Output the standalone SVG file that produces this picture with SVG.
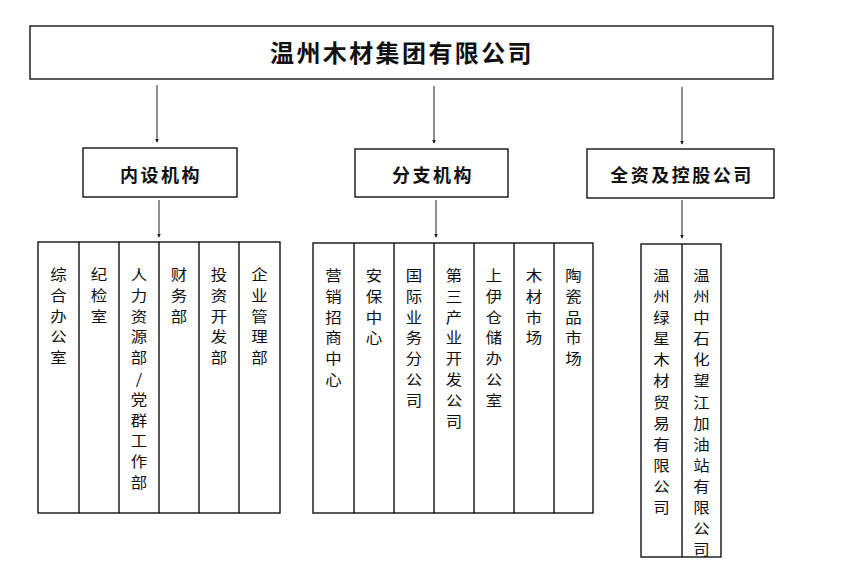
<svg xmlns="http://www.w3.org/2000/svg" width="845" height="587" viewBox="0 0 845 587">
<style>
.box{fill:#fff;stroke:#000;stroke-width:1.3}
.col{fill:none;stroke:#000;stroke-width:1.3}
.t1{font-family:"Noto Sans CJK SC","Noto Sans",sans-serif;font-size:24px;font-weight:bold;letter-spacing:2.4px;text-anchor:middle;fill:#111}
.t2{font-family:"Noto Sans CJK SC","Noto Sans",sans-serif;font-size:18px;font-weight:bold;letter-spacing:2.5px;text-anchor:middle;fill:#111}
.t3{font-family:"Noto Sans CJK SC","Noto Sans",sans-serif;font-size:14.3px;text-anchor:middle;fill:#111}
.arr{stroke:#555;stroke-width:1.3;fill:none;marker-end:url(#ah)}
</style>
<defs>
<marker id="ah" viewBox="0 0 6 6" refX="5" refY="3" markerWidth="4" markerHeight="4" orient="auto" markerUnits="userSpaceOnUse"><path d="M0,0 L6,3 L0,6 z" fill="#222"/></marker>
</defs>
<rect width="845" height="587" fill="#fff"/>
<g id="connectors">
<line class="arr" x1="157" y1="85" x2="157" y2="142"/>
<line class="arr" x1="434" y1="86" x2="434" y2="143"/>
<line class="arr" x1="682" y1="87" x2="682" y2="144"/>
<line class="arr" x1="159" y1="200" x2="159" y2="237"/>
<line class="arr" x1="436" y1="200" x2="436" y2="237"/>
<line class="arr" x1="682" y1="200" x2="682" y2="238"/>
</g>
<g id="root">
<rect class="box" x="30" y="26" width="743" height="53"/>
<text class="t1" x="402" y="62">温州木材集团有限公司</text>
</g>
<g id="neishe">
<rect class="box" x="83" y="148" width="154" height="49"/>
<text class="t2" x="161" y="182">内设机构</text>
</g>
<g id="fenzhi">
<rect class="box" x="355" y="149" width="153" height="48"/>
<text class="t2" x="433" y="182">分支机构</text>
</g>
<g id="quanzi">
<rect class="box" x="587" y="149" width="187" height="49"/>
<text class="t2" x="682" y="182">全资及控股公司</text>
</g>
<g id="group1">
<rect class="col" x="38" y="242" width="242" height="271"/>
<path class="col" d="M79,242V513M119,242V513M159,242V513M199,242V513M239,242V513"/>
<g transform="translate(58.5,0) scale(1.15,1)"><text class="t3" y="280"><tspan x="0">综</tspan><tspan x="0" dy="20.8">合</tspan><tspan x="0" dy="20.8">办</tspan><tspan x="0" dy="20.8">公</tspan><tspan x="0" dy="20.8">室</tspan></text></g>
<g transform="translate(99,0) scale(1.15,1)"><text class="t3" y="280"><tspan x="0">纪</tspan><tspan x="0" dy="20.8">检</tspan><tspan x="0" dy="20.8">室</tspan></text></g>
<g transform="translate(139,0) scale(1.15,1)"><text class="t3" y="280"><tspan x="0">人</tspan><tspan x="0" dy="20.8">力</tspan><tspan x="0" dy="20.8">资</tspan><tspan x="0" dy="20.8">源</tspan><tspan x="0" dy="20.8">部</tspan><tspan x="0" dy="20.8">/</tspan><tspan x="0" dy="20.8">党</tspan><tspan x="0" dy="20.8">群</tspan><tspan x="0" dy="20.8">工</tspan><tspan x="0" dy="20.8">作</tspan><tspan x="0" dy="20.8">部</tspan></text></g>
<g transform="translate(179,0) scale(1.15,1)"><text class="t3" y="280"><tspan x="0">财</tspan><tspan x="0" dy="20.8">务</tspan><tspan x="0" dy="20.8">部</tspan></text></g>
<g transform="translate(219,0) scale(1.15,1)"><text class="t3" y="280"><tspan x="0">投</tspan><tspan x="0" dy="20.8">资</tspan><tspan x="0" dy="20.8">开</tspan><tspan x="0" dy="20.8">发</tspan><tspan x="0" dy="20.8">部</tspan></text></g>
<g transform="translate(259.5,0) scale(1.15,1)"><text class="t3" y="280"><tspan x="0">企</tspan><tspan x="0" dy="20.8">业</tspan><tspan x="0" dy="20.8">管</tspan><tspan x="0" dy="20.8">理</tspan><tspan x="0" dy="20.8">部</tspan></text></g>
</g>
<g id="group2">
<rect class="col" x="313" y="243" width="280" height="270"/>
<path class="col" d="M354,243V513M394,243V513M434,243V513M474,243V513M514,243V513M554,243V513"/>
<g transform="translate(333.5,0) scale(1.15,1)"><text class="t3" y="281"><tspan x="0">营</tspan><tspan x="0" dy="20.8">销</tspan><tspan x="0" dy="20.8">招</tspan><tspan x="0" dy="20.8">商</tspan><tspan x="0" dy="20.8">中</tspan><tspan x="0" dy="20.8">心</tspan></text></g>
<g transform="translate(374,0) scale(1.15,1)"><text class="t3" y="281"><tspan x="0">安</tspan><tspan x="0" dy="20.8">保</tspan><tspan x="0" dy="20.8">中</tspan><tspan x="0" dy="20.8">心</tspan></text></g>
<g transform="translate(414,0) scale(1.15,1)"><text class="t3" y="281"><tspan x="0">国</tspan><tspan x="0" dy="20.8">际</tspan><tspan x="0" dy="20.8">业</tspan><tspan x="0" dy="20.8">务</tspan><tspan x="0" dy="20.8">分</tspan><tspan x="0" dy="20.8">公</tspan><tspan x="0" dy="20.8">司</tspan></text></g>
<g transform="translate(454,0) scale(1.15,1)"><text class="t3" y="281"><tspan x="0">第</tspan><tspan x="0" dy="20.8">三</tspan><tspan x="0" dy="20.8">产</tspan><tspan x="0" dy="20.8">业</tspan><tspan x="0" dy="20.8">开</tspan><tspan x="0" dy="20.8">发</tspan><tspan x="0" dy="20.8">公</tspan><tspan x="0" dy="20.8">司</tspan></text></g>
<g transform="translate(494,0) scale(1.15,1)"><text class="t3" y="281"><tspan x="0">上</tspan><tspan x="0" dy="20.8">伊</tspan><tspan x="0" dy="20.8">仓</tspan><tspan x="0" dy="20.8">储</tspan><tspan x="0" dy="20.8">办</tspan><tspan x="0" dy="20.8">公</tspan><tspan x="0" dy="20.8">室</tspan></text></g>
<g transform="translate(534,0) scale(1.15,1)"><text class="t3" y="281"><tspan x="0">木</tspan><tspan x="0" dy="20.8">材</tspan><tspan x="0" dy="20.8">市</tspan><tspan x="0" dy="20.8">场</tspan></text></g>
<g transform="translate(573.5,0) scale(1.15,1)"><text class="t3" y="281"><tspan x="0">陶</tspan><tspan x="0" dy="20.8">瓷</tspan><tspan x="0" dy="20.8">品</tspan><tspan x="0" dy="20.8">市</tspan><tspan x="0" dy="20.8">场</tspan></text></g>
</g>
<g id="group3">
<rect class="col" x="641" y="244" width="80" height="313"/>
<path class="col" d="M682,244V557"/>
<g transform="translate(661.5,0) scale(1.15,1)"><text class="t3" y="281"><tspan x="0">温</tspan><tspan x="0" dy="21.1">州</tspan><tspan x="0" dy="21.1">绿</tspan><tspan x="0" dy="21.1">星</tspan><tspan x="0" dy="21.1">木</tspan><tspan x="0" dy="21.1">材</tspan><tspan x="0" dy="21.1">贸</tspan><tspan x="0" dy="21.1">易</tspan><tspan x="0" dy="21.1">有</tspan><tspan x="0" dy="21.1">限</tspan><tspan x="0" dy="21.1">公</tspan><tspan x="0" dy="21.1">司</tspan></text></g>
<g transform="translate(701.5,0) scale(1.15,1)"><text class="t3" y="281"><tspan x="0">温</tspan><tspan x="0" dy="21.1">州</tspan><tspan x="0" dy="21.1">中</tspan><tspan x="0" dy="21.1">石</tspan><tspan x="0" dy="21.1">化</tspan><tspan x="0" dy="21.1">望</tspan><tspan x="0" dy="21.1">江</tspan><tspan x="0" dy="21.1">加</tspan><tspan x="0" dy="21.1">油</tspan><tspan x="0" dy="21.1">站</tspan><tspan x="0" dy="21.1">有</tspan><tspan x="0" dy="21.1">限</tspan><tspan x="0" dy="21.1">公</tspan><tspan x="0" dy="21.1">司</tspan></text></g>
</g>
</svg>
